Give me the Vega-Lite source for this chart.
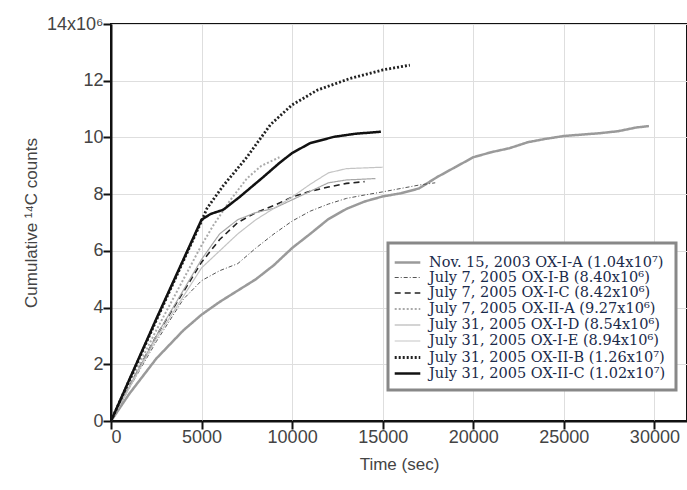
{
  "$schema": "https://vega.github.io/schema/vega-lite/v6.json",
  "width": 576,
  "height": 397,
  "autosize": {"type": "none"},
  "padding": {"left": 111, "top": 24, "right": 0, "bottom": 69},
  "background": "white",
  "config": {
    "view": {"stroke": "#111", "strokeWidth": 2},
    "axis": {
      "labelFont": "Liberation Sans",
      "labelFontSize": 18,
      "labelColor": "#444",
      "titleFont": "Liberation Sans",
      "titleFontSize": 17,
      "titleFontWeight": "normal",
      "titleColor": "#444",
      "domainColor": "#111",
      "domainWidth": 2,
      "tickColor": "#111",
      "tickWidth": 2,
      "tickSize": 8,
      "gridColor": "#dedede",
      "gridWidth": 1
    }
  },
  "data": {
    "values": [
      {"s": "Nov. 15, 2003 OX-I-A (1.04x10⁷)", "t": 0, "v": 0},
      {"s": "Nov. 15, 2003 OX-I-A (1.04x10⁷)", "t": 1000, "v": 0.95},
      {"s": "Nov. 15, 2003 OX-I-A (1.04x10⁷)", "t": 2500, "v": 2.2},
      {"s": "Nov. 15, 2003 OX-I-A (1.04x10⁷)", "t": 4000, "v": 3.2},
      {"s": "Nov. 15, 2003 OX-I-A (1.04x10⁷)", "t": 5000, "v": 3.75},
      {"s": "Nov. 15, 2003 OX-I-A (1.04x10⁷)", "t": 6000, "v": 4.2},
      {"s": "Nov. 15, 2003 OX-I-A (1.04x10⁷)", "t": 7000, "v": 4.6},
      {"s": "Nov. 15, 2003 OX-I-A (1.04x10⁷)", "t": 8000, "v": 5.0},
      {"s": "Nov. 15, 2003 OX-I-A (1.04x10⁷)", "t": 9000, "v": 5.5},
      {"s": "Nov. 15, 2003 OX-I-A (1.04x10⁷)", "t": 10000, "v": 6.1},
      {"s": "Nov. 15, 2003 OX-I-A (1.04x10⁷)", "t": 11000, "v": 6.6},
      {"s": "Nov. 15, 2003 OX-I-A (1.04x10⁷)", "t": 12000, "v": 7.12},
      {"s": "Nov. 15, 2003 OX-I-A (1.04x10⁷)", "t": 13000, "v": 7.48},
      {"s": "Nov. 15, 2003 OX-I-A (1.04x10⁷)", "t": 14000, "v": 7.74},
      {"s": "Nov. 15, 2003 OX-I-A (1.04x10⁷)", "t": 15000, "v": 7.92},
      {"s": "Nov. 15, 2003 OX-I-A (1.04x10⁷)", "t": 16000, "v": 8.03},
      {"s": "Nov. 15, 2003 OX-I-A (1.04x10⁷)", "t": 17000, "v": 8.2},
      {"s": "Nov. 15, 2003 OX-I-A (1.04x10⁷)", "t": 18000, "v": 8.6},
      {"s": "Nov. 15, 2003 OX-I-A (1.04x10⁷)", "t": 19000, "v": 8.95},
      {"s": "Nov. 15, 2003 OX-I-A (1.04x10⁷)", "t": 20000, "v": 9.3},
      {"s": "Nov. 15, 2003 OX-I-A (1.04x10⁷)", "t": 21000, "v": 9.48},
      {"s": "Nov. 15, 2003 OX-I-A (1.04x10⁷)", "t": 22000, "v": 9.62},
      {"s": "Nov. 15, 2003 OX-I-A (1.04x10⁷)", "t": 23000, "v": 9.83},
      {"s": "Nov. 15, 2003 OX-I-A (1.04x10⁷)", "t": 24000, "v": 9.95},
      {"s": "Nov. 15, 2003 OX-I-A (1.04x10⁷)", "t": 25000, "v": 10.05},
      {"s": "Nov. 15, 2003 OX-I-A (1.04x10⁷)", "t": 26000, "v": 10.1},
      {"s": "Nov. 15, 2003 OX-I-A (1.04x10⁷)", "t": 27000, "v": 10.15},
      {"s": "Nov. 15, 2003 OX-I-A (1.04x10⁷)", "t": 28000, "v": 10.22},
      {"s": "Nov. 15, 2003 OX-I-A (1.04x10⁷)", "t": 29000, "v": 10.35},
      {"s": "Nov. 15, 2003 OX-I-A (1.04x10⁷)", "t": 29700, "v": 10.4},

      {"s": "July 7, 2005 OX-I-B (8.40x10⁶)", "t": 0, "v": 0},
      {"s": "July 7, 2005 OX-I-B (8.40x10⁶)", "t": 1000, "v": 1.15},
      {"s": "July 7, 2005 OX-I-B (8.40x10⁶)", "t": 2500, "v": 2.8},
      {"s": "July 7, 2005 OX-I-B (8.40x10⁶)", "t": 4000, "v": 4.3},
      {"s": "July 7, 2005 OX-I-B (8.40x10⁶)", "t": 5000, "v": 4.95},
      {"s": "July 7, 2005 OX-I-B (8.40x10⁶)", "t": 6000, "v": 5.3},
      {"s": "July 7, 2005 OX-I-B (8.40x10⁶)", "t": 7000, "v": 5.55},
      {"s": "July 7, 2005 OX-I-B (8.40x10⁶)", "t": 8000, "v": 6.1},
      {"s": "July 7, 2005 OX-I-B (8.40x10⁶)", "t": 9000, "v": 6.6},
      {"s": "July 7, 2005 OX-I-B (8.40x10⁶)", "t": 10000, "v": 7.05},
      {"s": "July 7, 2005 OX-I-B (8.40x10⁶)", "t": 11000, "v": 7.4},
      {"s": "July 7, 2005 OX-I-B (8.40x10⁶)", "t": 12000, "v": 7.65},
      {"s": "July 7, 2005 OX-I-B (8.40x10⁶)", "t": 13000, "v": 7.85},
      {"s": "July 7, 2005 OX-I-B (8.40x10⁶)", "t": 14000, "v": 7.97},
      {"s": "July 7, 2005 OX-I-B (8.40x10⁶)", "t": 15000, "v": 8.08},
      {"s": "July 7, 2005 OX-I-B (8.40x10⁶)", "t": 16000, "v": 8.2},
      {"s": "July 7, 2005 OX-I-B (8.40x10⁶)", "t": 17000, "v": 8.32},
      {"s": "July 7, 2005 OX-I-B (8.40x10⁶)", "t": 17900, "v": 8.4},

      {"s": "July 7, 2005 OX-I-C (8.42x10⁶)", "t": 0, "v": 0},
      {"s": "July 7, 2005 OX-I-C (8.42x10⁶)", "t": 1000, "v": 1.2},
      {"s": "July 7, 2005 OX-I-C (8.42x10⁶)", "t": 2500, "v": 3.0},
      {"s": "July 7, 2005 OX-I-C (8.42x10⁶)", "t": 5000, "v": 5.6},
      {"s": "July 7, 2005 OX-I-C (8.42x10⁶)", "t": 6000, "v": 6.4},
      {"s": "July 7, 2005 OX-I-C (8.42x10⁶)", "t": 7000, "v": 7.0},
      {"s": "July 7, 2005 OX-I-C (8.42x10⁶)", "t": 8000, "v": 7.35},
      {"s": "July 7, 2005 OX-I-C (8.42x10⁶)", "t": 9000, "v": 7.6},
      {"s": "July 7, 2005 OX-I-C (8.42x10⁶)", "t": 10000, "v": 7.9},
      {"s": "July 7, 2005 OX-I-C (8.42x10⁶)", "t": 11000, "v": 8.1},
      {"s": "July 7, 2005 OX-I-C (8.42x10⁶)", "t": 12000, "v": 8.25},
      {"s": "July 7, 2005 OX-I-C (8.42x10⁶)", "t": 13000, "v": 8.38},
      {"s": "July 7, 2005 OX-I-C (8.42x10⁶)", "t": 14000, "v": 8.44},

      {"s": "July 7, 2005 OX-II-A (9.27x10⁶)", "t": 0, "v": 0},
      {"s": "July 7, 2005 OX-II-A (9.27x10⁶)", "t": 1000, "v": 1.3},
      {"s": "July 7, 2005 OX-II-A (9.27x10⁶)", "t": 2500, "v": 3.2},
      {"s": "July 7, 2005 OX-II-A (9.27x10⁶)", "t": 5000, "v": 6.2},
      {"s": "July 7, 2005 OX-II-A (9.27x10⁶)", "t": 5650, "v": 6.9},
      {"s": "July 7, 2005 OX-II-A (9.27x10⁶)", "t": 6600, "v": 7.8},
      {"s": "July 7, 2005 OX-II-A (9.27x10⁶)", "t": 7500, "v": 8.55},
      {"s": "July 7, 2005 OX-II-A (9.27x10⁶)", "t": 8300, "v": 9.0},
      {"s": "July 7, 2005 OX-II-A (9.27x10⁶)", "t": 9300, "v": 9.3},

      {"s": "July 31, 2005 OX-I-D (8.54x10⁶)", "t": 0, "v": 0},
      {"s": "July 31, 2005 OX-I-D (8.54x10⁶)", "t": 1000, "v": 1.2},
      {"s": "July 31, 2005 OX-I-D (8.54x10⁶)", "t": 2500, "v": 3.0},
      {"s": "July 31, 2005 OX-I-D (8.54x10⁶)", "t": 5000, "v": 5.7},
      {"s": "July 31, 2005 OX-I-D (8.54x10⁶)", "t": 6000, "v": 6.6},
      {"s": "July 31, 2005 OX-I-D (8.54x10⁶)", "t": 7000, "v": 7.1},
      {"s": "July 31, 2005 OX-I-D (8.54x10⁶)", "t": 8000, "v": 7.35},
      {"s": "July 31, 2005 OX-I-D (8.54x10⁶)", "t": 9000, "v": 7.5},
      {"s": "July 31, 2005 OX-I-D (8.54x10⁶)", "t": 10000, "v": 7.8},
      {"s": "July 31, 2005 OX-I-D (8.54x10⁶)", "t": 11000, "v": 8.1},
      {"s": "July 31, 2005 OX-I-D (8.54x10⁶)", "t": 12000, "v": 8.4},
      {"s": "July 31, 2005 OX-I-D (8.54x10⁶)", "t": 13000, "v": 8.5},
      {"s": "July 31, 2005 OX-I-D (8.54x10⁶)", "t": 14600, "v": 8.55},

      {"s": "July 31, 2005 OX-I-E (8.94x10⁶)", "t": 0, "v": 0},
      {"s": "July 31, 2005 OX-I-E (8.94x10⁶)", "t": 1000, "v": 1.15},
      {"s": "July 31, 2005 OX-I-E (8.94x10⁶)", "t": 2500, "v": 2.9},
      {"s": "July 31, 2005 OX-I-E (8.94x10⁶)", "t": 5000, "v": 5.4},
      {"s": "July 31, 2005 OX-I-E (8.94x10⁶)", "t": 6000, "v": 6.0},
      {"s": "July 31, 2005 OX-I-E (8.94x10⁶)", "t": 7000, "v": 6.6},
      {"s": "July 31, 2005 OX-I-E (8.94x10⁶)", "t": 8000, "v": 7.1},
      {"s": "July 31, 2005 OX-I-E (8.94x10⁶)", "t": 9000, "v": 7.5},
      {"s": "July 31, 2005 OX-I-E (8.94x10⁶)", "t": 10000, "v": 7.9},
      {"s": "July 31, 2005 OX-I-E (8.94x10⁶)", "t": 11000, "v": 8.35},
      {"s": "July 31, 2005 OX-I-E (8.94x10⁶)", "t": 12000, "v": 8.75},
      {"s": "July 31, 2005 OX-I-E (8.94x10⁶)", "t": 13000, "v": 8.9},
      {"s": "July 31, 2005 OX-I-E (8.94x10⁶)", "t": 15000, "v": 8.95},

      {"s": "July 31, 2005 OX-II-B (1.26x10⁷)", "t": 0, "v": 0},
      {"s": "July 31, 2005 OX-II-B (1.26x10⁷)", "t": 2500, "v": 3.55},
      {"s": "July 31, 2005 OX-II-B (1.26x10⁷)", "t": 5000, "v": 7.05},
      {"s": "July 31, 2005 OX-II-B (1.26x10⁷)", "t": 5300, "v": 7.5},
      {"s": "July 31, 2005 OX-II-B (1.26x10⁷)", "t": 6200, "v": 8.3},
      {"s": "July 31, 2005 OX-II-B (1.26x10⁷)", "t": 7500, "v": 9.3},
      {"s": "July 31, 2005 OX-II-B (1.26x10⁷)", "t": 8800, "v": 10.45},
      {"s": "July 31, 2005 OX-II-B (1.26x10⁷)", "t": 10000, "v": 11.15},
      {"s": "July 31, 2005 OX-II-B (1.26x10⁷)", "t": 11400, "v": 11.67},
      {"s": "July 31, 2005 OX-II-B (1.26x10⁷)", "t": 13200, "v": 12.08},
      {"s": "July 31, 2005 OX-II-B (1.26x10⁷)", "t": 15000, "v": 12.38},
      {"s": "July 31, 2005 OX-II-B (1.26x10⁷)", "t": 16500, "v": 12.55},

      {"s": "July 31, 2005 OX-II-C (1.02x10⁷)", "t": 0, "v": 0},
      {"s": "July 31, 2005 OX-II-C (1.02x10⁷)", "t": 2500, "v": 3.6},
      {"s": "July 31, 2005 OX-II-C (1.02x10⁷)", "t": 5000, "v": 7.1},
      {"s": "July 31, 2005 OX-II-C (1.02x10⁷)", "t": 5500, "v": 7.3},
      {"s": "July 31, 2005 OX-II-C (1.02x10⁷)", "t": 6200, "v": 7.45},
      {"s": "July 31, 2005 OX-II-C (1.02x10⁷)", "t": 7100, "v": 7.9},
      {"s": "July 31, 2005 OX-II-C (1.02x10⁷)", "t": 8400, "v": 8.6},
      {"s": "July 31, 2005 OX-II-C (1.02x10⁷)", "t": 9300, "v": 9.1},
      {"s": "July 31, 2005 OX-II-C (1.02x10⁷)", "t": 10000, "v": 9.45},
      {"s": "July 31, 2005 OX-II-C (1.02x10⁷)", "t": 11000, "v": 9.8},
      {"s": "July 31, 2005 OX-II-C (1.02x10⁷)", "t": 12300, "v": 10.02},
      {"s": "July 31, 2005 OX-II-C (1.02x10⁷)", "t": 13500, "v": 10.13},
      {"s": "July 31, 2005 OX-II-C (1.02x10⁷)", "t": 14900, "v": 10.2}
    ]
  },
  "mark": {"type": "line", "clip": true},
  "encoding": {
    "x": {
      "field": "t", "type": "quantitative",
      "scale": {"domain": [0, 31800], "nice": false},
      "axis": {"values": [0, 5000, 10000, 15000, 20000, 25000, 30000], "format": "d", "title": "Time (sec)", "labelPadding": -1, "titlePadding": 10, "grid": true,
        "encode": {"ticks": {"update": {"y2": {"value": -8}}}}}
    },
    "y": {
      "field": "v", "type": "quantitative",
      "scale": {"domain": [0, 14], "nice": false},
      "axis": {"values": [0, 2, 4, 6, 8, 10, 12, 14], "labelExpr": "datum.value == 14 ? '14x10⁶' : datum.label", "title": "Cumulative ¹⁴C counts", "labelPadding": 0, "titlePadding": 6, "grid": true,
        "encode": {"ticks": {"update": {"x2": {"value": 8}}}}}
    },
    "detail": {"field": "s"},
    "color": {
      "field": "s", "type": "nominal", "sort": null,
      "scale": {
        "domain": ["Nov. 15, 2003 OX-I-A (1.04x10⁷)", "July 7, 2005 OX-I-B (8.40x10⁶)", "July 7, 2005 OX-I-C (8.42x10⁶)", "July 7, 2005 OX-II-A (9.27x10⁶)", "July 31, 2005 OX-I-D (8.54x10⁶)", "July 31, 2005 OX-I-E (8.94x10⁶)", "July 31, 2005 OX-II-B (1.26x10⁷)", "July 31, 2005 OX-II-C (1.02x10⁷)"],
        "range": ["#9a9a9a", "#555555", "#222222", "#aaaaaa", "#a8a8a8", "#c4c4c4", "#222222", "#111111"]
      },
      "legend": {
        "title": null, "orient": "none", "legendX": 277, "legendY": 219,
        "labelFont": "DejaVu Serif", "labelFontSize": 14.5, "labelColor": "#1a2a4a",
        "symbolType": "M-1.6,0H1.6", "symbolSize": 256, "symbolStrokeWidth": 2,
        "rowPadding": 0, "labelOffset": 12, "labelLimit": 320,
        "strokeColor": "#888", "padding": 10, "fillColor": "white",
        "encode": {"legend": {"update": {"strokeWidth": {"value": 3}}}, "symbols": {"update": {"fill": {"value": "transparent"}}}}
      }
    },
    "strokeDash": {
      "field": "s", "type": "nominal", "sort": null,
      "scale": {
        "domain": ["Nov. 15, 2003 OX-I-A (1.04x10⁷)", "July 7, 2005 OX-I-B (8.40x10⁶)", "July 7, 2005 OX-I-C (8.42x10⁶)", "July 7, 2005 OX-II-A (9.27x10⁶)", "July 31, 2005 OX-I-D (8.54x10⁶)", "July 31, 2005 OX-I-E (8.94x10⁶)", "July 31, 2005 OX-II-B (1.26x10⁷)", "July 31, 2005 OX-II-C (1.02x10⁷)"],
        "range": [[1, 0], [4, 2, 1, 2], [6, 4], [2, 2], [1, 0], [1, 0], [2, 2], [1, 0]]
      },
      "legend": null
    },
    "strokeWidth": {
      "field": "s", "type": "nominal", "sort": null,
      "scale": {
        "type": "ordinal",
        "domain": ["Nov. 15, 2003 OX-I-A (1.04x10⁷)", "July 7, 2005 OX-I-B (8.40x10⁶)", "July 7, 2005 OX-I-C (8.42x10⁶)", "July 7, 2005 OX-II-A (9.27x10⁶)", "July 31, 2005 OX-I-D (8.54x10⁶)", "July 31, 2005 OX-I-E (8.94x10⁶)", "July 31, 2005 OX-II-B (1.26x10⁷)", "July 31, 2005 OX-II-C (1.02x10⁷)"],
        "range": [2.5, 1, 1.6, 2, 1.2, 1.2, 2.8, 2.5]
      },
      "legend": null
    }
  }
}
